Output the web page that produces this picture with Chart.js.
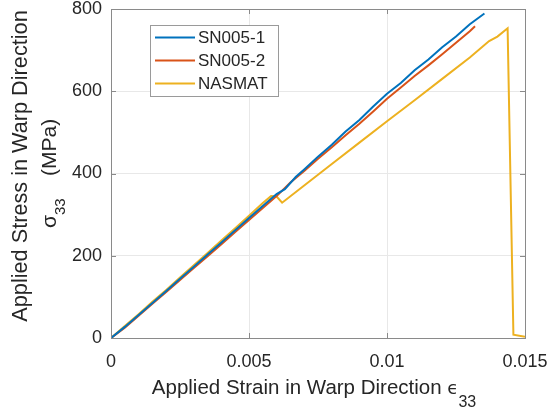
<!DOCTYPE html>
<html>
<head>
<meta charset="utf-8">
<script src="https://cdn.jsdelivr.net/npm/chart.js@4.4.1/dist/chart.umd.min.js"></script>
<style>
  html, body { margin: 0; padding: 0; background: #fff; }
  #wrap { width: 549px; height: 408px; }
</style>
</head>
<body>
<div id="wrap"><canvas id="stressChart" width="549" height="408"></canvas></div>
<script>
// series names / colours (MATLAB default order)
const seriesLabels = ["SN005-1", "SN005-2", "NASMAT"];
const seriesColors = ["#0072BD", "#D95319", "#EDB120"];

// SN005-1 test
const sn1Strain = [0, 0.0005, 0.001, 0.0015, 0.002, 0.0025, 0.003, 0.0035, 0.004, 0.0045, 0.005, 0.0055, 0.006, 0.0063, 0.0067, 0.007, 0.0075, 0.008, 0.0085, 0.009, 0.0095, 0.01, 0.0105, 0.011, 0.0115, 0.012, 0.0125, 0.013, 0.01353];
const sn1Stress = [0, 27, 56, 85, 114, 144, 173, 203, 232, 262, 292, 321, 350, 362, 392, 410, 441, 470, 502, 530, 563, 594, 620, 651, 677, 707, 733, 763, 789];

// SN005-2 test
const sn2Strain = [0, 0.0005, 0.001, 0.0015, 0.002, 0.0025, 0.003, 0.0035, 0.004, 0.0045, 0.005, 0.0055, 0.006, 0.0065, 0.007, 0.0075, 0.008, 0.0085, 0.009, 0.0095, 0.01, 0.0105, 0.011, 0.0115, 0.012, 0.0125, 0.013, 0.01319];
const sn2Stress = [0, 25, 54, 83, 112, 141, 170, 199, 228, 258, 287, 316, 345, 378, 406, 436, 464, 493, 521, 551, 582, 609, 637, 663, 690, 718, 746, 758];

// NASMAT prediction
const nasStrain = [0, 0.0005, 0.001, 0.0015, 0.002, 0.0025, 0.003, 0.0035, 0.004, 0.0045, 0.005, 0.0055, 0.0058, 0.006, 0.0062, 0.007, 0.008, 0.009, 0.01, 0.011, 0.012, 0.013, 0.0137, 0.014, 0.01437, 0.01458, 0.015];
const nasStress = [0, 29, 58, 88, 117, 147, 177, 207, 237, 267, 297, 328, 345, 344, 329, 371, 423, 475, 527, 578, 630, 682, 722, 733, 753, 8, 3];

// axis ticks
const xTickValues = [0, 0.005, 0.01, 0.015];
const xTickLabels = ["0", "0.005", "0.01", "0.015"];
const yTickValues = [0, 200, 400, 600, 800];
const yTickLabels = ["0", "200", "400", "600", "800"];

const FONT = "'Liberation Sans', Arial, Helvetica, sans-serif";
const TEXT = "#262626";

function toPoints(xs, ys) {
  return xs.map((x, i) => ({ x: x, y: ys[i] }));
}

const seriesData = [
  toPoints(sn1Strain, sn1Stress),
  toPoints(sn2Strain, sn2Stress),
  toPoints(nasStrain, nasStress)
];

// frame, inward ticks, legend and the titles with subscripts
const matlabAxes = {
  id: "matlabAxes",
  afterDatasetsDraw(chart) {
    const ctx = chart.ctx;
    const a = chart.chartArea;
    const xs = chart.scales.x, ys = chart.scales.y;
    ctx.save();
    ctx.strokeStyle = "#8a8a8a";
    ctx.lineWidth = 1;
    ctx.strokeRect(Math.round(a.left) + 0.5, Math.round(a.top) + 0.5,
      Math.round(a.right - a.left), Math.round(a.bottom - a.top));
    ctx.beginPath();
    xTickValues.forEach(v => {
      const px = Math.round(xs.getPixelForValue(v)) + 0.5;
      ctx.moveTo(px, a.bottom); ctx.lineTo(px, a.bottom - 5);
      ctx.moveTo(px, a.top); ctx.lineTo(px, a.top + 5);
    });
    yTickValues.forEach(v => {
      const py = Math.round(ys.getPixelForValue(v)) + 0.5;
      ctx.moveTo(a.left, py); ctx.lineTo(a.left + 5, py);
      ctx.moveTo(a.right, py); ctx.lineTo(a.right - 5, py);
    });
    ctx.stroke();

    // legend box
    const bx = 150.5, by = 25.5, bw = 128, bh = 71;
    ctx.fillStyle = "#fff";
    ctx.fillRect(bx, by, bw, bh);
    ctx.strokeStyle = "#9a9a9a";
    ctx.strokeRect(bx, by, bw, bh);
    const rows = [37.5, 60.5, 83.5];
    ctx.font = "17px " + FONT;
    ctx.textBaseline = "middle";
    ctx.textAlign = "left";
    chart.data.datasets.forEach((ds, i) => {
      ctx.strokeStyle = ds.borderColor;
      ctx.lineWidth = 2;
      ctx.beginPath();
      ctx.moveTo(155, rows[i]); ctx.lineTo(195, rows[i]);
      ctx.stroke();
      ctx.fillStyle = TEXT;
      ctx.fillText(ds.label, 198, rows[i] + 1);
    });
    ctx.restore();
  },
  afterDraw(chart) {
    const ctx = chart.ctx;
    ctx.save();
    ctx.fillStyle = TEXT;
    ctx.textBaseline = "alphabetic";
    ctx.textAlign = "left";

    // x title
    const main = "Applied Strain in Warp Direction ";
    const eps = "\u03F5";
    const mainFont = "20.5px " + FONT;
    const subFont = "16px " + FONT;
    const epsFont = "18px 'DejaVu Sans', " + FONT;
    ctx.font = mainFont;
    const w1 = ctx.measureText(main).width;
    ctx.font = epsFont;
    const w2 = ctx.measureText(eps).width;
    ctx.font = subFont;
    const w3 = ctx.measureText("33").width;
    let x0 = 314 - (w1 + w2 + w3) / 2;
    ctx.font = mainFont;
    ctx.fillText(main, x0, 394);
    ctx.font = epsFont;
    ctx.fillText(eps, x0 + w1, 394);
    ctx.font = subFont;
    ctx.fillText("33", x0 + w1 + w2, 407);

    // y title, two lines rotated
    ctx.rotate(-Math.PI / 2);
    ctx.font = "21.7px " + FONT;
    ctx.textAlign = "center";
    ctx.fillText("Applied Stress in Warp Direction", -166, 27);
    ctx.textAlign = "left";
    ctx.font = "21px " + FONT;
    const sw = ctx.measureText("\u03C3").width;
    ctx.fillText("\u03C3", -228, 56);
    ctx.font = "15px " + FONT;
    ctx.fillText("33", -228 + sw, 65);
    ctx.font = "21px " + FONT;
    ctx.fillText("(MPa)", -176, 56);
    ctx.restore();
  }
};

const ctx = document.getElementById("stressChart").getContext("2d");
const chart = new Chart(ctx, {
  type: "line",
  data: {
    datasets: seriesLabels.map((label, i) => ({
      label: label,
      data: seriesData[i],
      borderColor: seriesColors[i],
      backgroundColor: seriesColors[i],
      borderWidth: 2,
      pointRadius: 0,
      tension: 0,
      fill: false
    }))
  },
  options: {
    responsive: false,
    animation: false,
    devicePixelRatio: 1,
    layout: { padding: { top: 9, right: 24, bottom: 0, left: 0 } },
    plugins: {
      legend: { display: false },
      tooltip: { enabled: false }
    },
    scales: {
      x: {
        type: "linear",
        min: 0,
        max: 0.015,
        afterBuildTicks: s => { s.ticks = xTickValues.map(v => ({ value: v })); },
        afterFit: s => { s.height = 70; s.paddingLeft = 0; s.paddingRight = 0; },
        ticks: {
          callback: (v, i) => xTickLabels[i],
          font: { family: FONT, size: 18 },
          color: TEXT,
          padding: 13,
          maxRotation: 0
        },
        grid: { color: "#e8e8e8", drawTicks: false },
        border: { display: false }
      },
      y: {
        type: "linear",
        min: 0,
        max: 800,
        afterBuildTicks: s => { s.ticks = yTickValues.map(v => ({ value: v })); },
        afterFit: s => { s.width = 111; s.paddingTop = 0; s.paddingBottom = 0; },
        ticks: {
          callback: (v, i) => yTickLabels[i],
          font: { family: FONT, size: 18 },
          color: TEXT,
          padding: 9
        },
        grid: { color: "#e8e8e8", drawTicks: false },
        border: { display: false }
      }
    }
  },
  plugins: [matlabAxes]
});
</script>
</body>
</html>
